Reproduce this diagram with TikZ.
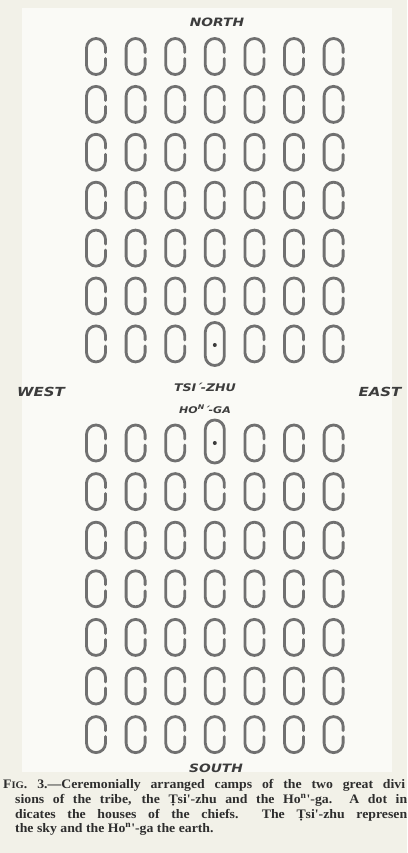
\documentclass[tikz,border=0pt]{standalone}
\usepackage{fontspec}
\setmainfont{Liberation Serif}
\newfontfamily\capfont[FakeStretch=1.06]{Liberation Serif}
\newfontfamily\labfont[FakeStretch=1.2]{DejaVu Sans}
\definecolor{bgcol}{HTML}{F2F1E8}
\definecolor{innercol}{HTML}{FAFAF6}
\definecolor{hutcol}{HTML}{707070}
\definecolor{labcol}{HTML}{3C3C3C}
\definecolor{capcol}{HTML}{2E2E2E}
\newcommand\hutC[2]{%
  \draw[hut] ({#1+9.5},{-#2-2}) -- ({#1+9.5},{-#2-8.5})
    arc[start angle=0,end angle=-180,radius=9.5]
    -- ({#1-9.5},{-#2+8.5})
    arc[start angle=180,end angle=0,radius=9.5]
    -- ({#1+9.5},{-#2+4});}
\tikzset{
  hut/.style={draw=hutcol,line width=2.8pt,line cap=round},
  chiefdot/.style={fill=labcol,draw=none},
  compass/.style={text=labcol,inner sep=0pt,font=\labfont\bfseries\itshape\fontsize{11.5}{13}\selectfont},
  sidelab/.style={compass,font=\labfont\bfseries\itshape\fontsize{12.5}{14}\selectfont},
  division/.style={text=labcol,inner sep=0pt,font=\labfont\bfseries\itshape\fontsize{10.5}{12}\selectfont},
  division2/.style={text=labcol,inner sep=0pt,font=\labfont\bfseries\itshape\fontsize{9.2}{11}\selectfont},
  capline/.style={text=capcol,inner sep=0pt,anchor=base west,font=\capfont\bfseries\fontsize{13}{15}\selectfont}
}
\begin{document}
\begin{tikzpicture}[x=1pt,y=1pt]
\useasboundingbox (0,0) rectangle (407,-853);
\fill[bgcol] (0,0) rectangle (407,-853);
\fill[innercol] (22,-8) rectangle (392,-772);
% top division (Tsi'-zhu)
\foreach \i in {0,...,6}{
  \foreach \j in {0,...,6}{
    \pgfmathsetmacro\cx{96+39.6*\i}
    \pgfmathsetmacro\cy{56.5+47.9*\j}
    \pgfmathtruncatemacro\sp{(\i==3)&&(\j==6)}
    \ifnum\sp=0 \hutC{\cx}{\cy}\fi
  }}
% bottom division (Hon'-ga)
\foreach \i in {0,...,6}{
  \foreach \j in {0,...,6}{
    \pgfmathsetmacro\cx{96+39.6*\i}
    \pgfmathsetmacro\cy{443+48.6*\j}
    \pgfmathtruncatemacro\sp{(\i==3)&&(\j==0)}
    \ifnum\sp=0 \hutC{\cx}{\cy}\fi
  }}
% chiefs' houses
\draw[hut,rounded corners=9.5pt] (205.3,-322.5) rectangle (224.3,-365.5);
\fill[chiefdot] (214.8,-345) circle[radius=2];
\draw[hut,rounded corners=9.5pt] (205.3,-420) rectangle (224.3,-463);
\fill[chiefdot] (214.8,-443) circle[radius=2];
% labels
\node[compass] (north) at (217,-22) {NORTH};
\node[compass] (south) at (216,-768) {SOUTH};
\node[sidelab] (west) at (41,-392) {WEST};
\node[sidelab] (east) at (380,-392) {EAST};
\node[division] (tsizhu) at (205,-387) {TSI\'{}-ZHU};
\node[division2] (honga) at (205,-409) {HO\textsuperscript{N}\'{}-GA};
% caption
\node[capline] (cap1) at (3,-788) {\makebox[402pt][s]{F{\fontsize{10}{11}\selectfont IG}. 3.—Ceremonially arranged camps of the two great divi}};
\node[capline] (cap2) at (15,-803) {\makebox[392pt][s]{sions of the tribe, the Ṭsi'-zhu and the Ho\textsuperscript{n}'-ga.\ \ A dot in}};
\node[capline] (cap3) at (15,-818) {\makebox[392pt][s]{dicates the houses of the chiefs.\ \ The Ṭsi'-zhu represen}};
\node[capline] (cap4) at (15,-832) {the sky and the Ho\textsuperscript{n}'-ga the earth.};
\end{tikzpicture}
\end{document}
